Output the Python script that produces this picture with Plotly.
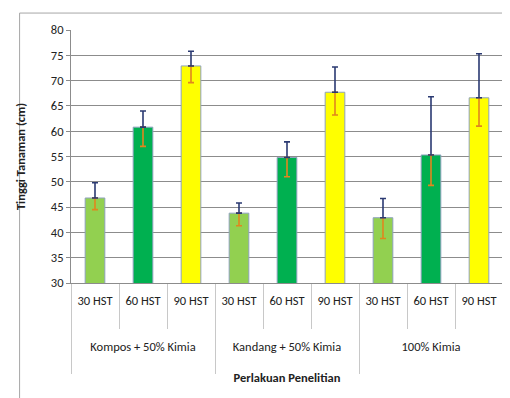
import plotly.graph_objects as go

groups = ["Kompos + 50% Kimia", "Kandang + 50% Kimia", "100% Kimia"]
ages = ["30 HST", "60 HST", "90 HST"]
colors = {"30 HST": "#92D050", "60 HST": "#00B050", "90 HST": "#FFFF00"}

# values per bar (group-major order)
heights = [46.8, 60.8, 72.9, 43.8, 54.8, 67.7, 42.9, 55.3, 66.6]
err_plus = [3.0, 3.2, 2.9, 2.0, 3.1, 5.0, 3.8, 11.5, 8.7]
err_minus = [2.3, 3.8, 3.3, 2.5, 3.8, 4.5, 4.1, 6.0, 5.6]

xa = [a for _ in groups for a in ages]
pos = list(range(len(xa)))
n_age = len(ages)
grp_centers = [i * n_age + (n_age - 1) / 2 for i in range(len(groups))]
cat_bounds = [p - 0.5 for p in pos] + [pos[-1] + 0.5]
grp_bounds = [i * n_age - 0.5 for i in range(len(groups) + 1)]
xrange = [-0.5, len(pos) - 0.5]

fig = go.Figure()
fig.add_trace(go.Bar(
    x=pos, y=heights,
    marker=dict(color=[colors[a] for a in xa], line=dict(color="#8EA2BE", width=1)),
    width=0.41, showlegend=False,
))
# lower half of the error bar (orange)
fig.add_trace(go.Scatter(
    x=pos, y=heights, mode="markers", marker=dict(opacity=0, size=1),
    error_y=dict(type="data", symmetric=False, array=[0]*9, arrayminus=err_minus,
                 color="#E0861E", thickness=1.6, width=3),
    showlegend=False, hoverinfo="skip",
))
# upper half of the error bar (navy)
fig.add_trace(go.Scatter(
    x=pos, y=heights, mode="markers", marker=dict(opacity=0, size=1),
    error_y=dict(type="data", symmetric=False, array=err_plus, arrayminus=[0]*9,
                 color="#2B3A72", thickness=1.6, width=3),
    showlegend=False, hoverinfo="skip",
))
for ax in ["x2", "x3", "x4"]:
    fig.add_trace(go.Scatter(x=[], y=[], xaxis=ax, yaxis="y", showlegend=False))

font = "Carlito, Liberation Sans Narrow, Arial Narrow, sans-serif"
fig.update_layout(
    width=510, height=398,
    margin=dict(l=58, r=15, t=22, b=123),
    paper_bgcolor="white", plot_bgcolor="white",
    font=dict(family=font, size=12, color="#222222"),
    xaxis=dict(
        range=xrange, showgrid=False, zeroline=False,
        showline=True, linecolor="#8C8C8C", linewidth=1,
        tickvals=pos, ticktext=xa, ticks="", ticklabelstandoff=6,
        tickfont=dict(size=12.5, color="#222222"),
    ),
    xaxis2=dict(
        range=xrange, overlaying="x", anchor="y", side="bottom",
        showgrid=False, zeroline=False, showline=False,
        tickvals=cat_bounds, ticks="outside", ticklen=45, tickcolor="#C8C8C8",
        tickwidth=1, showticklabels=False,
    ),
    xaxis3=dict(
        range=xrange, overlaying="x", anchor="y", side="bottom",
        showgrid=False, zeroline=False, showline=False,
        tickvals=grp_bounds, ticks="outside", ticklen=90, tickcolor="#C8C8C8",
        tickwidth=1, showticklabels=False,
    ),
    xaxis4=dict(
        range=xrange, overlaying="x", anchor="y", side="bottom",
        showgrid=False, zeroline=False, showline=False,
        tickvals=grp_centers, ticktext=groups, ticks="", ticklabelstandoff=54,
        tickfont=dict(size=12.5, color="#222222"),
        title=dict(text="<b>Perlakuan Penelitian</b>", font=dict(size=12.5), standoff=20),
    ),
    yaxis=dict(
        range=[30, 80], dtick=5,
        showgrid=True, gridcolor="#8C8C8C", gridwidth=1, zeroline=False,
        showline=True, linecolor="#8C8C8C", linewidth=1,
        ticks="outside", ticklen=4, tickcolor="#8C8C8C",
        tickfont=dict(size=12.5, color="#222222"),
        title=dict(text="<b>Tinggi Tanaman (cm)</b>", font=dict(size=12.5), standoff=22),
    ),
    shapes=[dict(type="rect", xref="paper", yref="paper",
                 x0=-0.119, x1=1.2, y0=-0.475, y1=1.067,
                 line=dict(color="#A6A6A6", width=1), layer="below")],
)

fig.write_html("out.html")
